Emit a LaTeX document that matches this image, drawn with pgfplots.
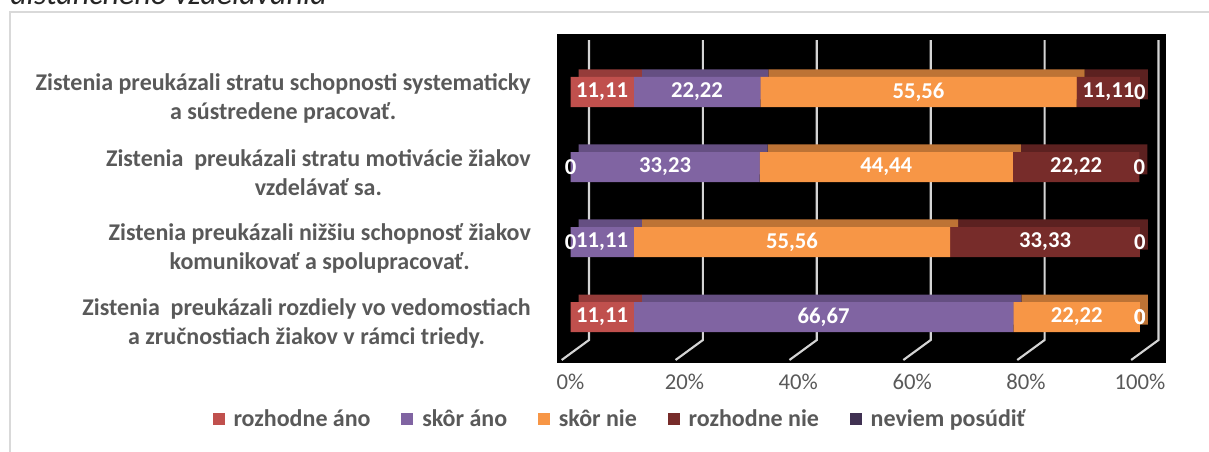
\documentclass[border=0pt]{standalone}
\usepackage{pgfplots}
\pgfplotsset{compat=1.18}
\usepackage{pgfplotstable}
\usepackage{fontspec}
\setmainfont{Carlito}
\definecolor{cRA}{HTML}{C0504D}
\definecolor{cSA}{HTML}{8064A2}
\definecolor{cSN}{HTML}{F79646}
\definecolor{cRN}{HTML}{772C2A}
\definecolor{cNP}{HTML}{403152}
\definecolor{tRA}{HTML}{953C3A}
\definecolor{tSA}{HTML}{654F82}
\definecolor{tSN}{HTML}{BD7335}
\definecolor{tRN}{HTML}{5C2120}
\definecolor{tNP}{HTML}{33284A}
\definecolor{txt}{HTML}{595959}
\definecolor{grd}{HTML}{D4D4D4}
\definecolor{frm}{HTML}{D9D9D9}

\pgfplotstableread{
i  ra     sa     sn     rn     np
0  11.11  22.22  55.56  11.11  0
1  0      33.23  44.44  22.22  0
2  0      11.11  55.56  33.33  0
3  11.11  66.67  22.22  0      0
}\data

\pgfplotsset{
  base/.style={
    scale only axis, width=456.75pt, height=246.75pt,
    xmin=-2.37, xmax=104.57, ymin=-0.7733, ymax=3.6133, y dir=reverse,
    anchor=south west, axis line style={draw=none}, tick style={draw=none},
    major tick length=0pt, clip=false,
  },
}

\begin{document}
\begin{tikzpicture}[x=0.75pt,y=0.75pt]
% frame
\draw[frm, line width=1.2pt] (10,440) rectangle (1260,-30);
% cut title
\node[anchor=base west, inner sep=0pt, font=\itshape\fontsize{24}{24}\selectfont, text=black!85] at (10,447) {dištančného vzdelávania};

% background axis: black wall, grid, tick labels
\begin{axis}[base, at={(417.75pt,66.75pt)},
  axis background/.style={fill=black},
  xtick={0,20,40,60,80,100},
  xticklabels={0\%,20\%,40\%,60\%,80\%,100\%},
  xticklabel style={font=\fontsize{17}{17}\selectfont, text=txt, anchor=north, yshift=-5pt},
  ytick={0,1,2,3},
  yticklabels={
    {Zistenia preukázali stratu schopnosti systematicky\\a sústredene pracovať.},
    {Zistenia~ preukázali stratu motivácie žiakov\\vzdelávať sa.},
    {Zistenia preukázali nižšiu schopnosť žiakov\\komunikovať a spolupracovať.},
    {Zistenia~ preukázali rozdiely vo vedomostiach\\a zručnostiach žiakov v rámci triedy.}},
  yticklabel style={align=center, font=\bfseries\fontsize{18}{21.75}\selectfont, text=txt, inner sep=0pt, anchor=east, xshift=-19.5pt, yshift=-4.5pt},
]
\addplot[grd, line width=1.6pt] coordinates {(3.25,-0.6933) (3.25,3.3067) (-1.55,3.5733)};
\addplot[grd, line width=1.6pt] coordinates {(23.25,-0.6933) (23.25,3.3067) (18.45,3.5733)};
\addplot[grd, line width=1.6pt] coordinates {(43.25,-0.6933) (43.25,3.3067) (38.45,3.5733)};
\addplot[grd, line width=1.6pt] coordinates {(63.25,-0.6933) (63.25,3.3067) (58.45,3.5733)};
\addplot[grd, line width=1.6pt] coordinates {(83.25,-0.6933) (83.25,3.3067) (78.45,3.5733)};
\addplot[grd, line width=1.6pt] coordinates {(103.25,-0.6933) (103.25,3.3067) (98.45,3.5733)};
\end{axis}

% shadow axis: top faces and end caps
\begin{axis}[base, at={(423.75pt,72.375pt)}, xbar stacked, bar width=0.4, xtick=\empty, ytick=\empty]
\addplot[fill=tRA, draw=none] table[x=ra, y=i] {\data};
\addplot[fill=tSA, draw=none] table[x=sa, y=i] {\data};
\addplot[fill=tSN, draw=none] table[x=sn, y=i] {\data};
\addplot[fill=tRN, draw=none] table[x=rn, y=i] {\data};
\addplot[fill=tNP, draw=tNP, line width=4.5pt] table[x=np, y=i] {\data};
\end{axis}

% front axis: bars and legend
\begin{axis}[base, at={(417.75pt,66.75pt)}, xbar stacked, bar width=0.4, xtick=\empty, ytick=\empty,
  legend columns=5,
  legend style={at={(0.1018,-0.170)}, anchor=center, draw=none, fill=none, font=\bfseries\fontsize{18}{18}\selectfont, text=txt,
    nodes={inner sep=0pt, anchor=west},
    /tikz/every odd column/.append style={column sep=6.75pt},
    /tikz/every even column/.append style={column sep=23pt}},
  legend image code/.code={\path[#1, draw=none] (0pt,-4.5pt) rectangle (9pt,4.5pt);},
]
\addplot[fill=cRA, draw=none] table[x=ra, y=i] {\data};
\addplot[fill=cSA, draw=none] table[x=sa, y=i] {\data};
\addplot[fill=cSN, draw=none] table[x=sn, y=i] {\data};
\addplot[fill=cRN, draw=none] table[x=rn, y=i] {\data};
\addplot[fill=cNP, draw=none] table[x=np, y=i] {\data};
\legend{rozhodne áno, skôr áno, skôr nie, rozhodne nie, neviem posúdiť}
\end{axis}

% value labels, centred in each segment
\begin{axis}[base, at={(417.75pt,66.75pt)}, xtick=\empty, ytick=\empty,
  point meta=explicit,
  nodes near coords={\pgfmathprintnumber[fixed,precision=2,use comma,assume math mode=true]{\pgfplotspointmeta}},
  every node near coord/.style={font=\bfseries\fontsize{17}{17}\selectfont, text=white, anchor=center, inner sep=0pt},
]
\addplot[draw=none, mark=none] table[x expr=\thisrow{ra}/2, y=i, meta=ra] {\data};
\addplot[draw=none, mark=none] table[x expr=\thisrow{ra}+\thisrow{sa}/2, y=i, meta=sa] {\data};
\addplot[draw=none, mark=none] table[x expr=\thisrow{ra}+\thisrow{sa}+\thisrow{sn}/2, y=i, meta=sn] {\data};
\addplot[draw=none, mark=none] table[x expr=\thisrow{ra}+\thisrow{sa}+\thisrow{sn}+\thisrow{rn}/2, y=i, meta=rn] {\data};
\addplot[draw=none, mark=none] table[x expr=\thisrow{ra}+\thisrow{sa}+\thisrow{sn}+\thisrow{rn}+\thisrow{np}/2, y=i, meta=np] {\data};
\end{axis}

\pgfresetboundingbox
\useasboundingbox (0,0) rectangle (1209,452);
\end{tikzpicture}
\end{document}
